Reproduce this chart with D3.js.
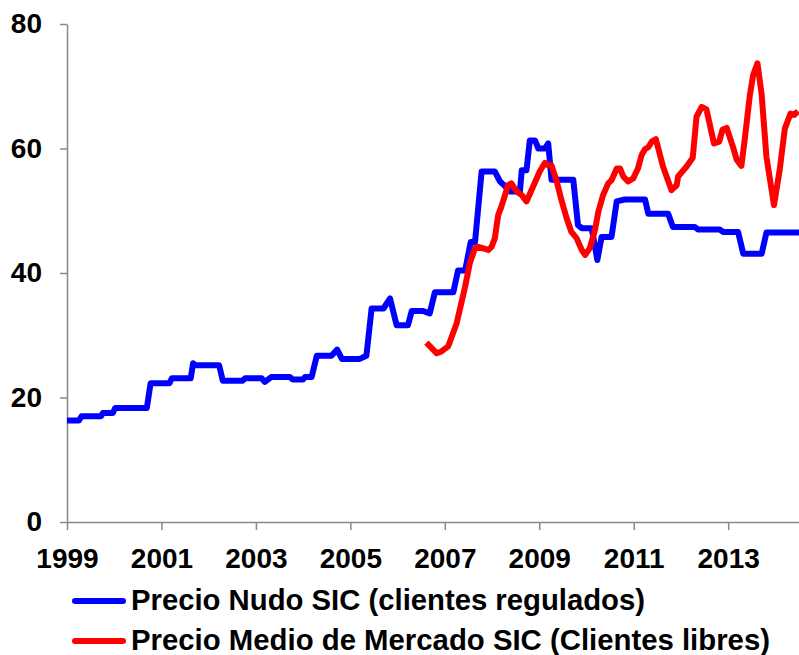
<!DOCTYPE html>
<html>
<head>
<meta charset="utf-8">
<script src="https://cdnjs.cloudflare.com/ajax/libs/d3/7.8.5/d3.min.js"></script>
<style>
  body { margin: 0; background: #fff; }
  svg { display: block; font-family: "Liberation Sans", Arial, sans-serif; font-weight: bold; }
  .axis path, .axis line { stroke: #898989; stroke-width: 1.5; }
  .axis text { font-size: 28px; font-weight: bold; fill: #000; font-family: "Liberation Sans", Arial, sans-serif; }
  .legend text { font-size: 29px; fill: #000; }
</style>
</head>
<body>
<svg width="799" height="655"></svg>
<script>
// Precio Nudo SIC (blue)
var blueYears = [1999.00, 1999.25, 1999.31, 1999.72, 1999.76, 1999.97, 2000.02, 2000.69, 2000.77, 2001.17,
  2001.22, 2001.62, 2001.67, 2001.72, 2002.22, 2002.30, 2002.72, 2002.77, 2003.12, 2003.19,
  2003.33, 2003.72, 2003.78, 2004.00, 2004.04, 2004.18, 2004.29, 2004.60, 2004.72, 2004.82,
  2005.20, 2005.34, 2005.45, 2005.70, 2005.84, 2005.98, 2006.22, 2006.30, 2006.54, 2006.68,
  2006.79, 2007.18, 2007.28, 2007.43, 2007.55, 2007.64, 2007.78, 2008.06, 2008.17, 2008.27,
  2008.38, 2008.59, 2008.63, 2008.73, 2008.80, 2008.91, 2008.98, 2009.12, 2009.19, 2009.26,
  2009.72, 2009.82, 2009.90, 2010.11, 2010.23, 2010.32, 2010.53, 2010.64, 2010.81, 2011.24,
  2011.31, 2011.73, 2011.83, 2012.29, 2012.36, 2012.82, 2012.89, 2013.21, 2013.32, 2013.71,
  2013.81, 2014.50];
var blueValues = [16.3, 16.3, 17.0, 17.0, 17.5, 17.5, 18.3, 18.3, 22.3, 22.3,
  23.1, 23.1, 25.5, 25.2, 25.2, 22.7, 22.7, 23.1, 23.1, 22.5,
  23.3, 23.3, 22.9, 22.9, 23.3, 23.3, 26.7, 26.7, 27.7, 26.2,
  26.2, 26.7, 34.3, 34.3, 35.9, 31.6, 31.6, 33.9, 33.9, 33.5,
  36.9, 36.9, 40.4, 40.4, 45.0, 45.0, 56.3, 56.3, 54.7, 54.0,
  53.1, 53.1, 56.5, 56.5, 61.3, 61.3, 60.0, 60.0, 60.8, 55.0,
  55.0, 47.7, 47.2, 47.2, 42.1, 45.8, 45.8, 51.5, 51.8, 51.8,
  49.5, 49.5, 47.4, 47.4, 47.0, 47.0, 46.6, 46.6, 43.1, 43.1,
  46.5, 46.5];

// Precio Medio de Mercado SIC (red)
var redYears = [2006.61, 2006.83, 2006.93, 2007.07, 2007.25, 2007.43, 2007.53, 2007.64, 2007.71, 2007.92,
  2007.99, 2008.06, 2008.13, 2008.20, 2008.34, 2008.41, 2008.52, 2008.63, 2008.73, 2008.87,
  2009.01, 2009.12, 2009.19, 2009.26, 2009.37, 2009.47, 2009.58, 2009.68, 2009.79, 2009.90,
  2009.97, 2010.07, 2010.18, 2010.25, 2010.35, 2010.46, 2010.53, 2010.64, 2010.71, 2010.78,
  2010.88, 2010.99, 2011.09, 2011.17, 2011.24, 2011.31, 2011.38, 2011.47, 2011.62, 2011.80,
  2011.91, 2011.94, 2012.12, 2012.25, 2012.33, 2012.44, 2012.54, 2012.70, 2012.81, 2012.88,
  2012.97, 2013.10, 2013.18, 2013.28, 2013.35, 2013.46, 2013.53, 2013.62, 2013.71, 2013.81,
  2013.97, 2014.09, 2014.20, 2014.32, 2014.40, 2014.48];
var redValues = [28.8, 27.1, 27.4, 28.2, 31.9, 37.8, 41.6, 44.0, 44.2, 43.7,
  44.2, 45.6, 49.3, 50.7, 54.1, 54.4, 53.1, 52.5, 51.5, 53.9,
  56.3, 57.7, 57.3, 57.3, 54.7, 51.7, 48.8, 46.6, 45.6, 43.7,
  42.9, 44.0, 46.9, 49.8, 52.5, 54.4, 54.9, 56.8, 56.8, 55.5,
  54.7, 55.2, 56.8, 59.0, 59.9, 60.2, 61.1, 61.5, 57.1, 53.3,
  54.1, 55.5, 57.1, 58.5, 65.1, 66.7, 66.3, 60.8, 61.1, 63.0,
  63.3, 60.3, 58.2, 57.2, 61.4, 68.6, 71.8, 73.7, 68.6, 58.7,
  50.9, 56.5, 63.2, 65.6, 65.4, 66.0];

var yTicks = [0, 20, 40, 60, 80];
var xTicks = [1999, 2001, 2003, 2005, 2007, 2009, 2011, 2013];
var seriesNames = ["Precio Nudo SIC (clientes regulados)", "Precio Medio de Mercado SIC (Clientes libres)"];
var seriesColors = ["#0000ff", "#ff0000"];
var legendWidths = [514, 639];

var svg = d3.select("svg"),
    marginLeft = 67,
    marginTop = 24,
    width = 732,
    height = 498;

var x = d3.scaleLinear().domain([1999, 2014.5]).range([0, width]),
    y = d3.scaleLinear().domain([0, 80]).range([height, 0]);

var g = svg.append("g")
    .attr("transform", "translate(" + marginLeft + "," + marginTop + ")");

// axes
g.append("g")
  .attr("class", "axis")
  .attr("transform", "translate(0," + height + ")")
  .call(d3.axisBottom(x).tickValues(xTicks).tickFormat(d3.format("d"))
    .tickSize(8).tickSizeOuter(0).tickPadding(18));

g.append("g")
  .attr("class", "axis")
  .call(d3.axisLeft(y).tickValues(yTicks).tickSize(7).tickSizeOuter(0).tickPadding(18));

// lines
var line = d3.line()
    .x(function(d) { return x(d[0]); })
    .y(function(d) { return y(d[1]); });

var blue = d3.zip(blueYears, blueValues),
    red = d3.zip(redYears, redValues);

[blue, red].forEach(function(s, i) {
  g.append("path")
   .datum(s)
   .attr("fill", "none")
   .attr("stroke", seriesColors[i])
   .attr("stroke-width", 6)
   .attr("stroke-linejoin", "round")
   .attr("d", line);
});

// legend
var legend = svg.append("g").attr("class", "legend");
seriesNames.forEach(function(name, i) {
  var ly = 601 + i * 40;
  legend.append("line")
    .attr("x1", 75).attr("x2", 123)
    .attr("y1", ly).attr("y2", ly)
    .attr("stroke", seriesColors[i])
    .attr("stroke-width", 6)
    .attr("stroke-linecap", "round");
  legend.append("text")
    .attr("x", 131)
    .attr("y", ly + 9)
    .attr("textLength", legendWidths[i])
    .attr("lengthAdjust", "spacingAndGlyphs")
    .text(name);
});
</script>
</body>
</html>
